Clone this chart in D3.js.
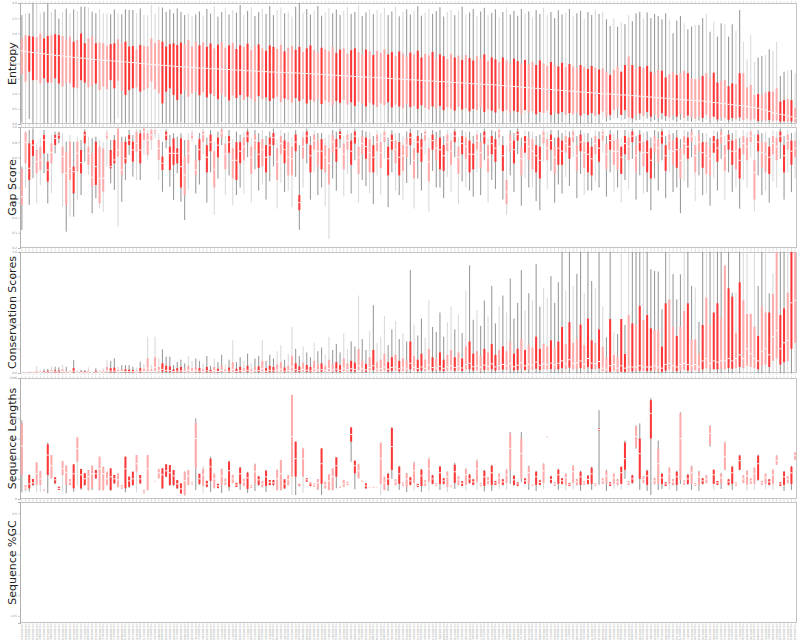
<!DOCTYPE html>
<html><head><meta charset="utf-8">
<script src="https://cdn.jsdelivr.net/npm/d3@7"></script>
<style>body{margin:0;background:#fff}svg{display:block}</style>
</head><body>
<svg id="chart" width="800" height="640"></svg>
<script>
// ---------------- DATA ----------------
const clusterIds = ("0001842 0003310 0000457 0002219 0005031 0000963 0001576 0004408 0002894 0000122 " +
"0003765 0001048 0002637 0000589 0004120 0001933 0003502 0000714 0002281 0005196 " +
"0000348 0001690 0003047 0002512 0000836 0004673 0001205 0003889 0000271 0002756 " +
"0001419 0004035 0000652 0003178 0002043 0005412 0001367 0000905 0002968 0003621 " +
"0000187 0004259 0001724 0002390 0003856 0000533 0001081 0004794 0002147 0003303 " +
"0000769 0001958 0003426 0002605 0000414 0005087 0001632 0002873 0003940 0000228 " +
"0004516 0001174 0002459 0003712 0000891 0001527 0005263 0002034 0000675 0003198 " +
"0001803 0004387 0000316 0002722 0003564 0001249 0000958 0004831 0002186 0003075 " +
"0000542 0001466 0005329 0002917 0000803 0003642 0001115 0004203 0002568 0000397 " +
"0003986 0001751 0000624 0002349 0004752 0001288 0003431 0000179 0002805 0005148 " +
"0001592 0000736 0003259 0002471 0004066 0000945 0001837 0003718 0002106 0000463 " +
"0004927 0001370 0002653 0003894 0000581 0005201 0001026 0002738 0003357 0000842 " +
"0004185 0001619 0000297 0002984 0003573 0001142 0004609 0000716 0002251 0003812 " +
"0001477 0005364 0000838 0002092 0003946 0001703 0000351 0004438 0002629 0003120 " +
"0000995 0001286 0004871 0002417 0003608 0000564 0001919 0005045 0002777 0000233 " +
"0003491 0001058 0004324 0002862 0000679 0003733 0001541 0002190 0005482 0000908 " +
"0001664 0003027 0004592 0000412 0002545 0003969 0001323 0000781 0004146 0002698 " +
"0003384 0000126 0001877 0005118 0002309 0000657 0003845 0001401 0004279 0002032 " +
"0000874 0003516 0001195 0002941 0004708 0000301 0001758 0003692 0002463 0005275 " +
"0001012 0000549 0004063 0002821 0003174 0001636 0000925 0004485 0002376 0003901 " +
"0000448 0001553 0005007 0002589 0003267 0001129 0004651 0000772 0002915 0003448").split(" ");
const categories = clusterIds.map(d => "OG" + d);

// r = strong red box, p = pale box ; d = dark whisker, l = light whisker
const boxTone = ("pprrpprrpr"+"rppprprrpp"+"rppprrpprr"+"rprppppprr"+"rrrrpppp"+
"rprrprpprp"+"rrprpprprr"+"rpprpprrpr"+"rpprppprrp"+"prrpprprpp"+
"prrprpprpr"+"rpprprrppr"+"prprrpprpr"+"rprpprrprp"+"prrpprprrp"+
"rpprprrpr"+"pprpprrprp"+"rprrpprrpp"+"rpprppprpp"+"rrpprrprpp"+"pprpprpprr"+"prp").split("");
const whiskerTone = ("dlddllddld"+"dldldlddld"+"dlllddlddd"+"dldllllldd"+"dddddlld"+
"dlddlddldl"+"ddldlddldd"+"dlldllddld"+"dlddlldddl"+"lddlddldll"+
"lddldlddld"+"dllddddlld"+"ldlddlddld"+"dldlddddld"+"lddllddddl"+
"dlddlddld"+"lddldldldd"+"dlddddddld"+"ddlddlddld"+"lddlddldll"+"llddldlldd"+"ldl").split("");

const entMax = [3.6,3.66,3.66,4.1,3.99,3.66,3.71,3.99,3.71,3.79,
3.49,3.71,3.82,3.66,3.79,3.74,3.88,3.88,3.85,3.71,
3.66,3.79,3.66,3.66,3.63,3.79,3.66,3.63,3.79,3.77,
3.77,3.66,3.82,3.6,3.6,3.93,3.66,3.88,3.85,3.71,
3.79,3.66,3.82,3.71,3.6,3.66,3.57,3.62,3.72,3.58,
3.8,3.65,3.9,3.55,3.7,3.84,3.62,3.76,3.68,3.93,
3.6,3.74,3.86,3.57,3.7,3.81,3.64,3.9,3.6,3.77,
3.85,3.66,3.72,3.55,3.88,4.1,3.68,3.8,3.62,3.75,
3.9,3.58,3.7,3.83,3.66,3.78,3.6,3.74,3.86,3.64,
3.71,3.92,3.57,3.69,3.8,3.63,3.77,3.66,3.84,3.6,
3.72,3.88,3.56,3.7,3.79,3.62,3.75,3.9,3.58,3.68,
3.81,3.64,3.73,3.86,3.55,3.7,3.77,3.6,3.74,3.88,
3.62,3.69,3.8,3.57,3.72,3.84,3.6,3.67,3.79,3.54,
3.7,3.85,3.62,3.74,3.58,3.8,3.66,3.72,3.52,3.77,
3.64,3.84,3.6,3.7,3.5,3.76,3.62,3.68,3.8,3.56,
3.66,3.74,3.48,3.7,3.6,3.78,3.64,3.71,3.46,3.24,
3.5,3.22,3.38,3.3,3.6,3.4,3.66,3.71,3.5,3.69,
3.5,3.64,3.57,3.46,3.66,3.46,3.0,3.42,3.57,3.33,
3.13,3.22,3.27,3.27,3.5,3.64,3.05,3.38,2.89,3.33,
3.3,2.89,3.3,3.08,3.77,2.72,2.14,2.94,2.06,2.2,
2.25,2.28,2.47,2.42,2.72,1.59,1.73,1.77,1.79,1.68];
const entQ3 = [2.83,2.94,2.91,2.89,2.87,2.99,2.83,2.91,2.94,2.97,
2.94,2.91,2.8,2.89,2.72,2.78,2.99,2.67,2.83,2.89,
2.67,2.69,2.67,2.58,2.64,2.67,2.8,2.67,2.72,2.56,
2.58,2.47,2.61,2.58,2.56,2.83,2.67,2.78,2.72,2.56,
2.64,2.67,2.61,2.69,2.64,2.78,2.56,2.72,2.6,2.7,
2.55,2.66,2.5,2.62,2.71,2.52,2.6,2.68,2.48,2.6,
2.55,2.66,2.45,2.58,2.63,2.5,2.42,2.6,2.55,2.48,
2.62,2.4,2.52,2.58,2.45,2.55,2.38,2.5,2.6,2.44,
2.36,2.52,2.47,2.4,2.55,2.35,2.46,2.5,2.32,2.44,
2.5,2.38,2.3,2.46,2.4,2.28,2.42,2.35,2.47,2.3,
2.38,2.25,2.4,2.33,2.22,2.36,2.3,2.42,2.2,2.32,
2.27,2.38,2.18,2.3,2.24,2.15,2.32,2.2,2.26,2.12,
2.28,2.18,2.1,2.24,2.16,2.3,2.08,2.2,2.14,2.05,
2.2,2.1,2.02,2.16,2.08,2.0,2.12,1.98,2.06,1.95,
2.1,2.0,1.92,2.05,1.96,1.9,2.02,1.88,1.98,1.9,
1.85,1.95,1.88,1.82,1.92,1.86,1.8,1.84,1.73,1.62,
1.79,1.9,1.73,1.95,2.23,1.95,1.84,1.9,1.86,1.92,
1.73,1.68,1.79,1.76,1.54,1.65,1.73,1.62,1.68,1.76,
1.68,1.51,1.48,1.49,1.59,1.68,1.51,1.7,1.37,1.43,
1.45,1.25,1.34,1.32,1.68,1.68,1.21,1.29,0.96,0.99,
0.96,1.04,1.07,1.07,1.18,0.74,0.79,0.82,0.79,0.52];
const entMed = [2.42,2.40,2.38,2.36,2.35,2.33,2.32,2.30,2.29,2.27,
2.26,2.25,2.23,2.22,2.20,2.19,2.18,2.17,2.15,2.14,
2.13,2.12,2.11,2.10,2.09,2.08,2.07,2.06,2.05,2.04,
2.03,2.02,2.00,1.99,1.98,1.97,1.96,1.95,1.94,1.93,
1.92,1.91,1.90,1.89,1.89,1.88,1.87,1.86,1.85,1.85,
1.84,1.83,1.83,1.82,1.81,1.80,1.80,1.79,1.78,1.78,
1.77,1.76,1.76,1.75,1.74,1.74,1.73,1.72,1.72,1.71,
1.71,1.70,1.70,1.69,1.69,1.68,1.67,1.67,1.66,1.65,
1.65,1.64,1.63,1.62,1.62,1.61,1.60,1.59,1.59,1.58,
1.57,1.57,1.56,1.55,1.55,1.54,1.53,1.53,1.52,1.51,
1.50,1.49,1.49,1.48,1.47,1.46,1.46,1.45,1.44,1.43,
1.43,1.42,1.41,1.40,1.40,1.39,1.38,1.37,1.37,1.36,
1.35,1.34,1.33,1.33,1.32,1.31,1.30,1.30,1.29,1.28,
1.27,1.26,1.25,1.24,1.23,1.22,1.21,1.20,1.19,1.18,
1.17,1.16,1.15,1.14,1.13,1.12,1.11,1.10,1.09,1.08,
1.07,1.06,1.05,1.04,1.03,1.02,1.01,1.00,0.99,0.99,
0.98,0.97,0.96,0.96,0.95,0.94,0.93,0.92,0.91,0.90,
0.89,0.88,0.87,0.86,0.85,0.84,0.83,0.82,0.81,0.80,
0.79,0.78,0.77,0.77,0.76,0.74,0.73,0.71,0.70,0.68,
0.67,0.65,0.64,0.62,0.61,0.60,0.58,0.56,0.55,0.52,
0.49,0.46,0.42,0.37,0.35,0.32,0.30,0.27,0.24,0.19];
const entQ1 = [1.65,1.4,1.73,1.45,1.45,1.34,1.51,1.37,1.37,1.51,
1.34,1.24,1.37,1.34,1.21,1.18,1.45,1.37,1.21,1.26,
1.34,1.12,1.24,1.15,1.45,1.18,1.43,1.1,0.96,1.12,
1.18,1.21,1.07,1.12,1.18,1.4,1.15,1.01,0.68,1.07,
1.18,0.96,0.79,0.99,1.12,0.9,1.01,1.07,0.95,1.05,
0.88,1.0,0.92,0.82,0.98,0.9,0.78,0.94,0.86,0.96,
0.8,0.9,0.84,0.74,0.92,0.82,0.88,0.76,0.85,0.9,
0.72,0.84,0.8,0.7,0.86,0.76,0.82,0.68,0.8,0.74,
0.84,0.66,0.78,0.72,0.62,0.76,0.7,0.8,0.64,0.72,
0.6,0.74,0.68,0.58,0.7,0.64,0.56,0.68,0.62,0.72,
0.55,0.64,0.58,0.52,0.66,0.56,0.6,0.5,0.62,0.54,
0.48,0.58,0.52,0.6,0.46,0.55,0.5,0.44,0.56,0.48,
0.52,0.42,0.5,0.46,0.54,0.4,0.48,0.44,0.38,0.5,
0.42,0.46,0.36,0.44,0.4,0.34,0.46,0.38,0.42,0.32,
0.4,0.36,0.44,0.3,0.38,0.34,0.4,0.3,0.36,0.32,
0.38,0.28,0.34,0.3,0.36,0.27,0.32,0.41,0.24,0.3,
0.46,0.52,0.3,0.46,0.22,0.19,0.3,0.35,0.27,0.4,
0.24,0.32,0.2,0.36,0.26,0.22,0.3,0.24,0.33,0.2,
0.28,0.22,0.17,0.25,0.2,0.3,0.18,0.24,0.15,0.22,
0.19,0.14,0.2,0.16,0.22,0.13,0.18,0.12,0.16,0.1,
0.14,0.11,0.13,0.09,0.12,0.08,0.1,0.07,0.09,0.06];
const entMin = [.05,.03,.17,.02,.03,.04,.02,.03,.05,.02,
.03,.02,.04,.03,.02,.06,.03,.02,.04,.03,
.02,.03,.05,.02,.04,.03,.19,.02,.03,.04,
.02,.05,.03,.02,.04,.03,.02,.05,.03,.02,
.04,.03,.02,.05,.03,.02,.04,.03,.02,.05,
.03,.02,.04,.03,.06,.02,.03,.04,.02,.03,
.05,.02,.03,.04,.02,.03,.05,.02,.04,.03,
.02,.04,.03,.05,.02,.03,.04,.02,.03,.05,
.02,.03,.04,.02,.05,.03,.02,.04,.03,.02,
.04,.03,.02,.05,.03,.02,.04,.03,.02,.04,
.03,.02,.05,.03,.02,.04,.03,.02,.05,.03,
.02,.04,.03,.02,.05,.03,.02,.04,.03,.02,
.04,.02,.03,.05,.02,.03,.04,.02,.03,.04,
.02,.03,.05,.02,.04,.03,.02,.04,.03,.02,
.05,.03,.02,.04,.03,.02,.05,.03,.02,.04,
.03,.02,.04,.03,.02,.05,.03,.15,.08,.12,
.18,.2,.1,.16,.06,.05,.12,.14,.09,.18,
.07,.13,.05,.15,.1,.08,.12,.06,.14,.05,
.1,.07,.05,.11,.06,.12,.04,.09,.05,.1,
.06,.04,.08,.05,.09,.04,.07,.04,.06,.03,
.05,.04,.03,.05,.03,.02,.04,.03,.02,.02];

// gap score per cluster: [max, q3, median, q1, min]
const gapStats = [
[.738,.72,.539,.484,.319],[.975,.965,.899,.76,.595],[.98,.892,.727,.65,.484],[.991,.914,.88,.808,.661],[.892,.848,.771,.694,.495],[.925,.87,.782,.716,.617],[.98,.947,.914,.826,.694],[.826,.771,.716,.639,.495],[.947,.892,.832,.76,.561],[.969,.947,.925,.881,.826],
[.969,.958,.947,.925,.892],[.958,.87,.804,.694,.473],[.903,.837,.694,.484,.308],[.947,.903,.727,.65,.407],[.903,.738,.705,.561,.407],[.936,.903,.826,.705,.517],[.914,.848,.764,.694,.55],[.985,.969,.947,.892,.771],[.936,.87,.826,.749,.683],[.925,.826,.668,.606,.429],
[.936,.903,.738,.617,.528],[.914,.87,.661,.495,.462],[.903,.859,.661,.572,.44],[.98,.958,.947,.925,.738],[.914,.848,.738,.727,.628],[.947,.914,.782,.76,.584],[.995,.99,.848,.804,.341],[.936,.903,.716,.683,.506],[.936,.903,.793,.76,.65],[.98,.947,.914,.881,.815],
[.947,.903,.848,.771,.672],[.985,.969,.892,.837,.65],[.98,.958,.848,.76,.65],[.995,.99,.969,.914,.815],[.98,.958,.914,.815,.782],[.991,.98,.947,.914,.848],[.991,.98,.969,.958,.925],[.958,.914,.859,.782,.65],[.903,.804,.76,.716,.572],[.985,.969,.947,.914,.859],
[.947,.87,.826,.716,.606],[.958,.925,.826,.749,.517],[.936,.859,.826,.76,.694],[.958,.925,.738,.6,.506],[.914,.804,.683,.55,.385],[.958,.914,.826,.76,.584],[.98,.958,.947,.925,.903],[.881,.782,.716,.683,.561],[.96,.92,.85,.78,.62],[.99,.97,.95,.9,.82],
[.93,.88,.8,.7,.5],[.98,.95,.9,.84,.7],[.9,.84,.72,.6,.42],[.97,.93,.88,.8,.66],[.99,.98,.96,.93,.88],[.94,.89,.82,.72,.55],[.98,.94,.9,.83,.68],[.92,.86,.78,.66,.48],[.97,.9,.78,.65,.55],[.95,.9,.84,.76,.6],
[.97,.93,.87,.78,.56],[.99,.97,.94,.9,.8],[.93,.87,.8,.69,.5],[.98,.95,.91,.85,.72],[.96,.9,.82,.73,.58],[.98,.92,.85,.74,.62],[.94,.88,.8,.7,.52],[.97,.93,.88,.81,.64],[.99,.96,.93,.88,.74],[.92,.86,.77,.65,.46],
[.98,.94,.89,.82,.63],[.96,.91,.85,.76,.57],[.97,.9,.8,.68,.58],[.93,.87,.79,.68,.47],[.98,.95,.9,.84,.67],[.88,.55,.5,.45,.32],[.97,.93,.87,.79,.6],[.99,.97,.94,.89,.76],[.94,.88,.81,.7,.52],[.98,.95,.91,.85,.7],
[.96,.91,.84,.74,.55],[.96,.92,.84,.72,.6],[.93,.88,.8,.7,.48],[.95,.86,.76,.62,.26],[.98,.95,.9,.83,.66],[.97,.92,.86,.77,.58],[.99,.97,.95,.92,.86],[.94,.89,.82,.72,.54],[.98,.95,.91,.85,.69],[.96,.91,.84,.75,.56],
[.99,.97,.94,.89,.78],[.93,.87,.8,.69,.5],[.98,.94,.89,.82,.65],[.97,.93,.87,.79,.61],[.97,.92,.83,.7,.56],[.94,.88,.8,.7,.49],[.98,.95,.9,.84,.68],[.96,.9,.83,.73,.55],[.99,.97,.94,.9,.79],[.93,.87,.79,.68,.47],
[.98,.95,.91,.85,.7],[.96,.91,.85,.76,.58],[.96,.9,.8,.68,.55],[.94,.88,.81,.71,.52],[.97,.93,.88,.8,.63],[.99,.96,.93,.88,.75],[.92,.86,.78,.66,.46],[.98,.94,.9,.83,.66],[.96,.92,.86,.77,.58],[.99,.97,.95,.91,.82],
[.93,.86,.77,.64,.44],[.98,.95,.91,.85,.71],[.97,.92,.86,.78,.6],[.98,.93,.85,.72,.6],[.94,.88,.81,.71,.53],[.98,.95,.9,.84,.67],[.96,.91,.84,.75,.57],[.99,.97,.94,.9,.8],[.93,.87,.8,.69,.49],[.98,.94,.89,.82,.64],
[.97,.93,.87,.79,.6],[.97,.91,.82,.7,.58],[.94,.89,.82,.72,.54],[.98,.95,.91,.85,.7],[.96,.9,.83,.73,.55],[.99,.97,.94,.89,.78],[.93,.88,.8,.7,.5],[.98,.94,.89,.82,.65],[.97,.92,.86,.77,.59],[.99,.98,.96,.93,.87],
[.94,.88,.81,.71,.52],[.88,.65,.57,.49,.42],[.98,.95,.9,.84,.68],[.96,.91,.85,.76,.57],[.99,.97,.95,.91,.82],[.93,.87,.79,.68,.48],[.98,.94,.9,.83,.66],[.97,.93,.87,.78,.6],[.97,.92,.84,.72,.6],[.94,.88,.81,.7,.51],
[.95,.87,.78,.66,.45],[.99,.97,.94,.89,.77],[.97,.92,.86,.78,.59],[.98,.95,.91,.85,.71],[.93,.87,.8,.69,.5],[.98,.93,.86,.75,.62],[.96,.91,.84,.75,.56],[.98,.94,.89,.83,.67],[.97,.93,.87,.79,.61],[.99,.97,.94,.9,.8],
[.94,.88,.81,.71,.53],[.98,.95,.9,.84,.69],[.96,.9,.83,.73,.55],[.96,.9,.82,.7,.58],[.93,.87,.79,.68,.58],[.98,.94,.89,.82,.64],[.97,.92,.86,.77,.6],[.99,.97,.95,.91,.83],[.94,.89,.82,.72,.54],[.98,.95,.91,.85,.7],
[.96,.91,.84,.75,.57],[.98,.92,.84,.72,.6],[.93,.87,.8,.69,.5],[.98,.94,.89,.82,.65],[.97,.93,.87,.78,.59],[.99,.97,.94,.9,.79],[.94,.88,.81,.7,.52],[.98,.95,.9,.84,.68],[.96,.9,.83,.74,.56],[.97,.91,.83,.7,.57],
[.93,.86,.78,.66,.45],[.98,.94,.9,.83,.66],[.97,.92,.86,.77,.58],[.99,.97,.94,.89,.78],[.94,.88,.81,.71,.53],[.98,.95,.91,.85,.7],[.96,.91,.84,.75,.57],[.98,.93,.85,.73,.6],[.92,.86,.78,.66,.43],[.98,.94,.89,.82,.64],
[.97,.93,.87,.79,.6],[.99,.97,.94,.9,.8],[.94,.88,.81,.7,.51],[.98,.95,.9,.84,.68],[.96,.9,.83,.73,.55],[.96,.9,.81,.69,.56],[.93,.87,.79,.68,.48],[.98,.94,.9,.83,.66],[.97,.92,.86,.77,.58],[.99,.97,.94,.89,.79],
[.94,.88,.81,.71,.52],[.98,.95,.91,.85,.7],[.96,.91,.84,.75,.57],[.98,.92,.84,.72,.6],[.93,.86,.78,.66,.46],[.98,.94,.89,.82,.65],[.97,.93,.87,.78,.6],[.99,.97,.94,.9,.8],[.95,.78,.7,.52,.44],[.98,.95,.9,.84,.68],
[.96,.9,.83,.73,.55],[.97,.9,.82,.7,.58],[.93,.87,.8,.69,.5],[.98,.94,.89,.82,.64],[.97,.93,.87,.78,.6],[.99,.97,.94,.9,.79],[.94,.88,.81,.7,.52],[.98,.95,.91,.85,.7],[.96,.91,.84,.75,.57],[.97,.91,.86,.8,.66]];

const conMax = [.011,.005,.011,.011,.058,.025,.033,.033,.058,.052,
.047,.066,.052,.025,.107,.025,.025,.025,.047,.011,
.039,.025,.039,.107,.099,.121,.052,.066,.066,.066,
.052,.044,.094,.074,.3,.066,.3,.121,.196,.135,
.135,.066,.09,.11,.08,.14,.1,.12,.1,.08,
.14,.06,.12,.09,.15,.07,.11,.27,.09,.13,
.1,.16,.08,.12,.14,.27,.1,.15,.12,.18,
.23,.11,.16,.38,.2,.14,.22,.17,.13,.25,
.18,.21,.15,.3,.19,.24,.17,.33,.2,.26,
.22,.64,.28,.19,.35,.56,.25,.3,.47,.23,
.36,.43,.28,.33,.26,.85,.4,.31,.45,.29,
.6,.38,.34,.5,.3,.42,.55,.36,.48,.33,
.68,.89,.44,.52,.39,.6,.47,.72,.41,.55,
.64,.5,.78,.45,.58,.85,.52,.66,.6,.9,
.55,.7,.62,.8,.58,.75,1.3,.68,1.3,.72,
.82,1.3,.66,1.3,.76,.7,1.3,.548,.295,1.3,
.341,.322,1.3,.397,1.3,1.3,1.3,1.3,1.3,1.3,
.857,.843,.838,.526,1.3,1.3,.818,.609,.815,1.3,
1.3,.719,.708,.424,1.3,1.3,1.3,1.3,1.3,1.3,
.893,1.3,.664,.664,1.3,1.3,1.3,.493,1.3,.719,
1.3,1.3,.658,.824,1.3,1.3,1.3,1.3,1.3,1.3];
const conQ3 = [.006,.003,.006,.006,.02,.012,.015,.018,.025,.022,
.02,.03,.02,.012,.04,.012,.012,.014,.02,.006,
.018,.012,.02,.05,.04,.045,.025,.03,.03,.028,
.025,.02,.04,.035,.12,.03,.13,.05,.08,.06,
.055,.03,.04,.05,.035,.06,.04,.05,.04,.03,
.05,.025,.05,.035,.06,.03,.045,.09,.035,.05,
.04,.06,.03,.05,.055,.1,.04,.06,.05,.07,
.09,.045,.06,.14,.08,.055,.085,.065,.05,.1,
.07,.08,.06,.11,.075,.09,.065,.12,.08,.1,
.085,.2,.1,.075,.13,.19,.09,.11,.16,.09,
.13,.15,.1,.12,.1,.26,.14,.11,.16,.11,
.2,.13,.12,.17,.11,.15,.19,.13,.17,.12,
.22,.26,.16,.18,.14,.2,.17,.24,.15,.19,
.22,.18,.26,.16,.2,.28,.19,.23,.21,.3,
.2,.24,.22,.27,.21,.26,.38,.24,.42,.25,
.28,.4,.23,.45,.27,.25,.36,.217,.127,.446,
.149,.135,.446,.157,.479,.41,.397,.554,.438,.479,
.369,.355,.355,.217,.576,.609,.38,.306,.383,.512,
.576,.278,.278,.162,.397,.623,.397,.5,.576,.452,
.887,.7,.631,.333,.75,.6,.488,.488,.383,.306,
.55,.5,.5,.653,1.3,.479,.534,.664,1.3,1.3];
const conMed = [.003,.001,.003,.003,.008,.005,.006,.007,.01,.009,
.008,.012,.008,.005,.015,.005,.005,.006,.008,.003,
.007,.005,.008,.018,.015,.016,.01,.012,.012,.011,
.01,.008,.015,.013,.04,.012,.045,.02,.03,.022,
.02,.012,.015,.018,.013,.022,.015,.018,.015,.011,
.018,.01,.018,.013,.022,.011,.016,.03,.013,.018,
.015,.022,.011,.018,.02,.035,.015,.022,.018,.025,
.032,.016,.022,.05,.028,.02,.03,.023,.018,.035,
.025,.028,.022,.038,.026,.032,.023,.04,.028,.035,
.03,.06,.035,.026,.045,.06,.032,.038,.05,.032,
.045,.05,.035,.042,.035,.08,.048,.038,.05,.038,
.065,.045,.042,.055,.038,.05,.06,.045,.055,.042,
.07,.08,.052,.058,.048,.065,.055,.075,.05,.06,
.07,.058,.08,.052,.065,.085,.06,.072,.066,.09,
.064,.075,.07,.082,.066,.08,.1,.075,.11,.078,
.085,.1,.072,.12,.082,.078,.095,.04,.03,.06,
.07,.04,.06,.04,.05,.05,.05,.06,.05,.05,
.05,.06,.05,.04,.07,.08,.06,.05,.07,.08,
.07,.06,.07,.05,.1,.12,.08,.1,.09,.1,
.1,.12,.1,.12,.15,.12,.2,.16,.12,.1,
.18,.2,.15,.3,.35,.2,.25,.27,.58,.6];
const conQ1 = [.001,0,.001,.001,.003,.002,.002,.003,.004,.003,
.003,.005,.003,.002,.006,.002,.002,.002,.003,.001,
.003,.002,.003,.007,.006,.006,.004,.005,.005,.004,
.004,.003,.006,.005,.015,.005,.018,.008,.012,.009,
.008,.005,.006,.007,.005,.009,.006,.007,.006,.004,
.007,.004,.007,.005,.009,.004,.006,.012,.005,.007,
.006,.009,.004,.007,.008,.014,.006,.009,.007,.01,
.013,.006,.009,.02,.011,.008,.012,.009,.007,.014,
.01,.011,.009,.015,.01,.013,.009,.016,.011,.014,
.012,.024,.014,.01,.018,.024,.013,.015,.02,.013,
.018,.02,.014,.017,.014,.03,.019,.015,.02,.015,
.026,.018,.017,.022,.015,.02,.024,.018,.022,.017,
.028,.032,.021,.023,.019,.026,.022,.03,.02,.024,
.028,.023,.032,.021,.026,.034,.024,.029,.026,.036,
.026,.03,.028,.033,.026,.032,.04,.03,.044,.031,
.034,.04,.029,.048,.033,.031,.038,.015,.01,.01,
.02,.01,.01,.01,.01,.015,.015,.02,.015,.015,
.02,.02,.015,.01,.02,.03,.02,.015,.02,.025,
.02,.02,.025,.015,.03,.04,.03,.03,.03,.035,
.03,.04,.035,.04,.05,.04,.06,.05,.04,.03,
.06,.07,.05,.1,.12,.07,.09,.1,.2,.25];
const conMin = [0,0,0,0,0,0,0,0,0,0, 0,0,0,0,0,0,0,0,0,0, 0,0,0,0,0,0,0,0,0,0,
0,0,0,0,0,0,0,0,0,0, 0,0,0,0,0,0,0,0,0,0, 0,0,0,0,0,0,0,0,0,0,
0,0,0,0,0,0,0,0,0,0, 0,0,0,0,0,0,0,0,0,0, 0,0,0,0,0,0,0,0,0,0,
0,0,0,0,0,0,0,0,0,0, 0,0,0,0,0,0,0,0,0,0, 0,0,0,0,0,0,0,0,0,0,
0,0,0,0,0,0,0,0,0,0, 0,0,0,0,0,0,0,0,0,0, 0,0,0,0,0,0,0,0,0,0,
0,0,0,0,0,0,0,0,0,0, 0,0,0,0,0,0,0,0,0,0, 0,0,0,0,0,0,0,0,0,0,
0,0,0,0,0,0,0,0,0,0, 0,0,0,0,0,0,0,0,0,0, 0,0,0,0,0,0,0,0,0,0];

// sequence lengths per cluster: [max, q3, median, q1, min]
const lenStats = [
[780,750,526,238,66],[139,139,110,89,70],[245,238,150,106,73],[198,198,160,139,130],[364,364,250,139,66],[280,278,200,139,73],[95,92,89,86,84],[560,542,436,238,56],[436,436,330,205,200],[215,215,190,155,150],
[122,122,105,89,89],[377,377,300,238,73],[331,331,260,139,56],[198,198,170,139,130],[344,344,250,106,73],[618,610,500,370,139],[298,298,240,106,90],[255,255,200,139,130],[288,288,220,89,80],[331,331,250,106,90],
[288,288,250,205,200],[420,420,300,89,80],[321,321,250,89,80],[271,271,200,139,130],[304,304,220,89,80],[238,238,200,155,150],[255,255,190,122,110],[139,139,120,106,100],[420,420,300,106,66],[222,222,180,122,110],
[271,271,200,139,130],[436,436,350,271,66],[238,238,200,155,150],[89,89,70,56,50],[436,436,300,89,80],[168,167,165,163,160],[181,180,179,177,175],[298,298,260,205,200],[304,304,240,106,100],[344,344,280,222,215],
[337,337,260,139,130],[288,288,230,139,130],[188,188,150,106,100],[155,155,100,56,50],[271,271,180,40,35],[288,288,230,139,130],[172,172,160,146,140],[800,754,600,307,89],[250,250,200,150,140],[330,300,240,130,60],
[180,180,150,120,115],[420,400,320,180,70],[260,250,200,110,100],[150,150,130,110,105],[300,290,230,140,60],[210,200,170,140,135],[380,370,280,120,80],[240,240,200,160,155],[160,160,140,120,118],[320,310,250,150,90],
[200,200,170,130,125],[270,260,210,100,60],[140,140,125,110,108],[350,340,270,150,80],[230,225,190,140,130],[180,175,150,120,110],[290,280,220,130,70],[188,188,165,139,135],[188,188,160,139,130],[300,288,200,89,80],
[387,387,250,89,80],[195,195,150,106,100],[238,238,190,139,130],[1041,1031,620,222,40],[569,569,400,222,40],[150,150,140,130,125],[509,502,400,222,60],[205,205,190,172,170],[162,162,150,129,125],[155,155,140,122,120],
[198,198,160,96,90],[502,502,350,150,40],[172,172,140,106,100],[245,245,180,89,85],[304,304,220,89,85],[413,413,330,222,106],[125,122,120,118,115],[188,188,150,122,120],[172,172,155,139,135],[711,711,640,569,370],
[380,380,330,255,96],[347,347,280,205,200],[188,188,180,172,170],[155,155,130,106,100],[125,122,120,118,115],[118,117,116,115,114],[120,119,118,117,116],[559,559,400,150,40],[222,222,160,89,85],[260,250,200,140,80],
[714,704,520,288,200],[200,195,170,140,130],[330,320,250,150,90],[170,165,150,130,125],[260,250,200,120,70],[220,215,180,140,135],[380,360,280,160,80],[150,150,135,120,118],[300,290,230,130,70],[190,185,160,130,125],
[420,400,300,170,80],[240,235,200,150,145],[160,158,145,130,128],[330,320,260,150,90],[210,205,180,150,145],[280,270,220,120,70],[140,138,128,118,115],[360,340,270,160,100],[230,225,190,140,130],[180,175,155,130,125],
[310,300,240,140,80],[250,240,200,160,150],[200,195,170,140,135],[400,380,300,170,90],[160,158,145,130,128],[290,280,220,130,75],[220,215,185,150,145],[340,330,260,140,80],[180,178,160,140,138],[260,250,210,150,100],
[200,195,170,140,135],[300,290,240,160,90],[664,650,500,288,150],[240,230,190,140,130],[170,165,150,130,125],[664,600,450,200,170],[210,205,180,150,145],[330,320,260,150,90],[150,148,138,128,125],[280,270,220,140,80],
[190,185,165,140,135],[360,350,280,160,100],[625,620,615,610,605],[230,225,195,160,150],[170,165,150,130,128],[300,290,240,150,90],[210,205,180,150,145],[260,250,210,140,85],[160,158,145,130,128],[340,330,270,160,95],
[200,195,170,140,135],[280,270,220,140,80],[180,178,160,140,138],[240,230,195,150,140],[320,310,250,150,90],[160,158,145,130,128],[880,700,690,680,140],[210,205,180,150,145],[290,280,230,150,80],[170,165,150,130,128],
[260,250,210,150,100],[200,195,170,140,135],[330,320,260,150,90],[580,560,400,290,200],[180,178,160,140,138],[240,235,200,160,150],[730,720,620,515,500],[750,600,450,200,90],[230,225,195,160,150],[290,280,230,140,80],
[1000,980,850,600,40],[210,205,180,150,145],[580,500,350,150,90],[260,250,210,150,100],[170,165,150,130,128],[320,310,250,150,90],[200,195,170,140,135],[280,270,220,140,80],[860,850,600,190,150],[190,185,165,140,135],
[250,240,200,150,140],[330,320,260,150,90],[160,158,145,130,128],[280,270,220,140,80],[210,205,180,150,145],[240,235,200,160,150],[730,720,650,540,520],[300,290,240,150,90],[180,178,160,140,138],[260,250,210,150,100],
[580,560,420,290,280],[200,195,170,140,135],[330,320,260,150,90],[170,165,150,130,128],[440,430,380,290,285],[240,235,200,160,150],[290,280,230,140,80],[210,205,180,150,145],[320,310,250,150,90],[440,430,350,190,180],
[180,178,160,140,138],[260,250,210,150,100],[200,195,170,140,135],[300,290,240,150,90],[440,430,380,340,335],[170,165,150,130,128],[280,270,220,140,80],[230,225,195,160,150],[330,320,260,150,90],[470,460,430,390,385]];

const gcStats = []; // no %GC values available

const panelTitles = ["Entropy", "Gap Score", "Conservation Scores", "Sequence Lengths", "Sequence %GC"];
const yDomains = [[0, 4], [0.2, 1], [0, 1], [0, 1200], [-0.57, 0.61]];
const yTickValues = [
  [0, 0.5, 1, 1.5, 2, 2.5, 3, 3.5, 4],
  [0.2, 0.3, 0.4, 0.5, 0.6, 0.7, 0.8, 0.9, 1.0],
  [0, 0.2, 0.4, 0.6, 0.8, 1.0],
  [0, 200, 400, 600, 800, 1000, 1200],
  [-0.5, -0.3, -0.1, 0.1, 0.3, 0.5]
];
const yTickFormats = [".1f", ".1f", ".1f", "d", ".1f"];

// ---------------- BUILD TABLES ----------------
function fromArrays(mx, q3, md, q1, mn) {
  return mx.map((v, i) => ({max: v, q3: q3[i], med: md[i], q1: q1[i], min: mn[i]}));
}
function fromTuples(rows) {
  return rows.map(r => ({max: r[0], q3: r[1], med: r[2], q1: r[3], min: r[4]}));
}
const panelData = [
  fromArrays(entMax, entQ3, entMed, entQ1, entMin),
  fromTuples(gapStats),
  fromArrays(conMax, conQ3, conMed, conQ1, conMin),
  fromTuples(lenStats),
  fromTuples(gcStats)
];

// ---------------- DRAW ----------------
const svg = d3.select("#chart");
const plotLeft = 20, plotWidth = 777, panelHeight = 121;
const panelTops = [3, 127, 252, 378, 502];
const colors = {r: "#ff3636", p: "#ffaaaa", d: "#9c9c9c", l: "#dadada"};

const x = d3.scaleBand().domain(d3.range(categories.length)).range([plotLeft, plotLeft + plotWidth]);
const bw = x.bandwidth();
const defs = svg.append("defs");

panelTitles.forEach((title, p) => {
  const top = panelTops[p];
  const y = d3.scaleLinear().domain(yDomains[p]).range([top + panelHeight, top]);
  const g = svg.append("g").attr("class", "panel");

  defs.append("clipPath").attr("id", "clip" + p)
    .append("rect").attr("x", plotLeft).attr("y", top).attr("width", plotWidth).attr("height", panelHeight);

  // top & bottom category ticks
  const bx = g.append("g").attr("transform", `translate(0,${top + panelHeight})`)
    .call(d3.axisBottom(x).tickSize(2).tickFormat(""));
  const tx = g.append("g").attr("transform", `translate(0,${top})`)
    .call(d3.axisTop(x).tickSize(2).tickFormat(""));
  [bx, tx].forEach(a => { a.select(".domain").remove(); a.selectAll("line").attr("stroke", "#cfcfcf").attr("stroke-width", 0.6); });

  // frame
  g.append("rect").attr("x", plotLeft + 0.5).attr("y", top + 0.5)
    .attr("width", plotWidth - 1).attr("height", panelHeight - 1)
    .attr("fill", "none").attr("stroke", "#c4c4c4").attr("stroke-width", 1);

  // y axis
  const ya = g.append("g").attr("transform", `translate(${plotLeft},0)`)
    .call(d3.axisLeft(y).tickValues(yTickValues[p]).tickSize(2).tickPadding(1).tickFormat(d3.format(yTickFormats[p])));
  ya.select(".domain").attr("stroke", "#b0b0b0");
  ya.selectAll(".tick line").attr("stroke", "#b0b0b0").attr("stroke-width", 0.6);
  ya.selectAll(".tick text").attr("font-size", 3).attr("fill", "#8a8a8a").attr("font-family", "DejaVu Sans");

  // title
  svg.append("text").attr("transform", `translate(15.5,${top + panelHeight / 2}) rotate(-90)`)
    .attr("text-anchor", "middle").attr("font-family", "DejaVu Sans").attr("font-size", 11)
    .attr("fill", "#222").text(title);

  // box plots
  const marks = g.append("g").attr("clip-path", `url(#clip${p})`);
  const cols = marks.selectAll("g.col").data(panelData[p]).join("g").attr("class", "col");
  cols.each(function(d, i) {
    if (d.max == null || d.min == null) return;
    const cx = x(i) + bw / 2;
    const sel = d3.select(this);
    sel.append("rect").attr("x", cx - 0.55).attr("width", 1.1)
      .attr("y", y(d.max)).attr("height", Math.max(0.6, y(d.min) - y(d.max)))
      .attr("fill", colors[whiskerTone[i]] || colors.d);
    sel.append("rect").attr("x", cx - 1).attr("width", 2)
      .attr("y", y(d.q3)).attr("height", Math.max(0.8, y(d.q1) - y(d.q3)))
      .attr("fill", colors[boxTone[i]] || colors.r);
    sel.append("rect").attr("x", cx - 1).attr("width", 2)
      .attr("y", y(d.med) - 0.5).attr("height", 1).attr("fill", "#ffffff");
  });
});

// category labels at bottom
svg.append("g").selectAll("text").data(categories).join("text")
  .attr("transform", (d, i) => `translate(${x(i) + bw / 2 - 1},${panelTops[4] + panelHeight + 1.5}) rotate(90)`)
  .attr("font-family", "DejaVu Sans").attr("font-size", 2.7).attr("fill", "#9a9a9a")
  .text(d => d);
</script>
</body></html>
